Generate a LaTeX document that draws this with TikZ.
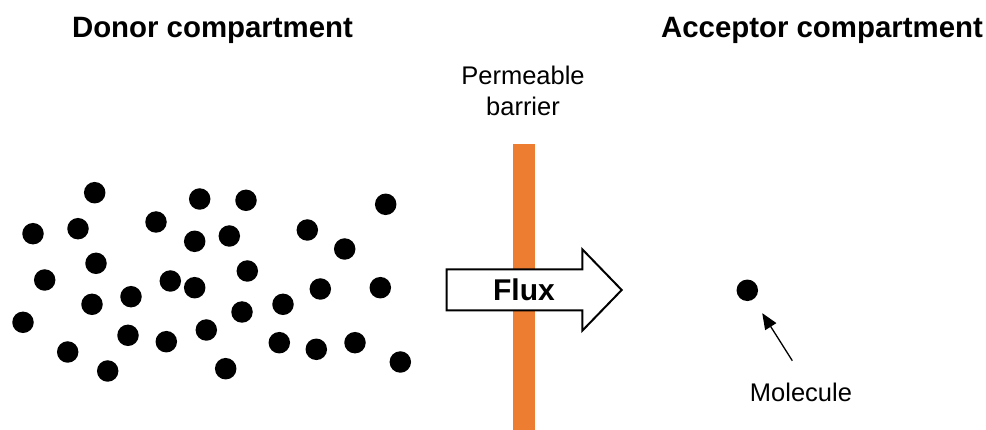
\documentclass[tikz,border=0pt]{standalone}
\usepackage{fontspec}
\setmainfont{Liberation Sans}
\usetikzlibrary{arrows.meta}
\definecolor{barrierorange}{HTML}{ED7D31}
\tikzset{
  dot/.style={circle, fill=black, inner sep=0pt, minimum size=21.5pt},
  heading/.style={font=\fontsize{29.4}{34}\selectfont\bfseries, inner sep=0pt},
  caption/.style={font=\fontsize{25.5}{31}\selectfont, inner sep=0pt, align=center},
}
\begin{document}
\begin{tikzpicture}[x=1pt, y=-1pt]
\useasboundingbox (0,0) rectangle (986,430);

% headings
\node[heading] (donor) at (212.5,30) {Donor compartment};
\node[heading] (acceptor) at (822,30) {Acceptor compartment};

% permeable barrier
\node[caption] (barlabel) at (523,91) {Permeable\\[0pt]barrier};
\fill[barrierorange] (513.3,144.3) rectangle (535,430);

% molecules in the donor compartment
\foreach \x/\y [count=\i] in {
  94.7/192.7, 33/233.7, 78/228.7, 156/222, 199.7/199, 246/200.3,
  385.7/204.3, 194.7/241.3, 229.3/236, 307.3/230, 344.7/249, 96/263.3,
  44.7/280, 247.3/271, 170.3/281, 194.7/287.7, 131/296.7, 92/304.3,
  320.3/289, 380.3/287.7, 283/304.3, 242/312, 23/322.3, 128/335.3,
  166.3/341.7, 206.3/330, 67.7/352, 107.7/371, 279.3/342.7, 316.3/349.3,
  355/342.7, 400.3/362, 225.7/368.7}
  \node[dot] (d\i) at (\x,\y) {};

% flux arrow
\draw[line width=2pt, fill=white, line join=miter]
  (446.7,269.3) -- (582.3,269.3) -- (582.3,249.3) -- (621.7,290)
  -- (582.3,330.7) -- (582.3,310.3) -- (446.7,310.3) -- cycle;
\node[font=\fontsize{30}{34}\selectfont\bfseries, inner sep=0pt] (flux) at (524,290) {Flux};

% single molecule in the acceptor compartment
\node[dot] (mol) at (747.3,290.3) {};
\node[caption] (mollabel) at (801,392) {Molecule};
\coordinate (molfoot) at (792.3,360.7);
\draw[line width=1.3pt, -{Triangle[length=16pt,width=13pt]}, shorten >=1pt]
  (molfoot) -- (761.7,312.3);
\end{tikzpicture}
\end{document}
